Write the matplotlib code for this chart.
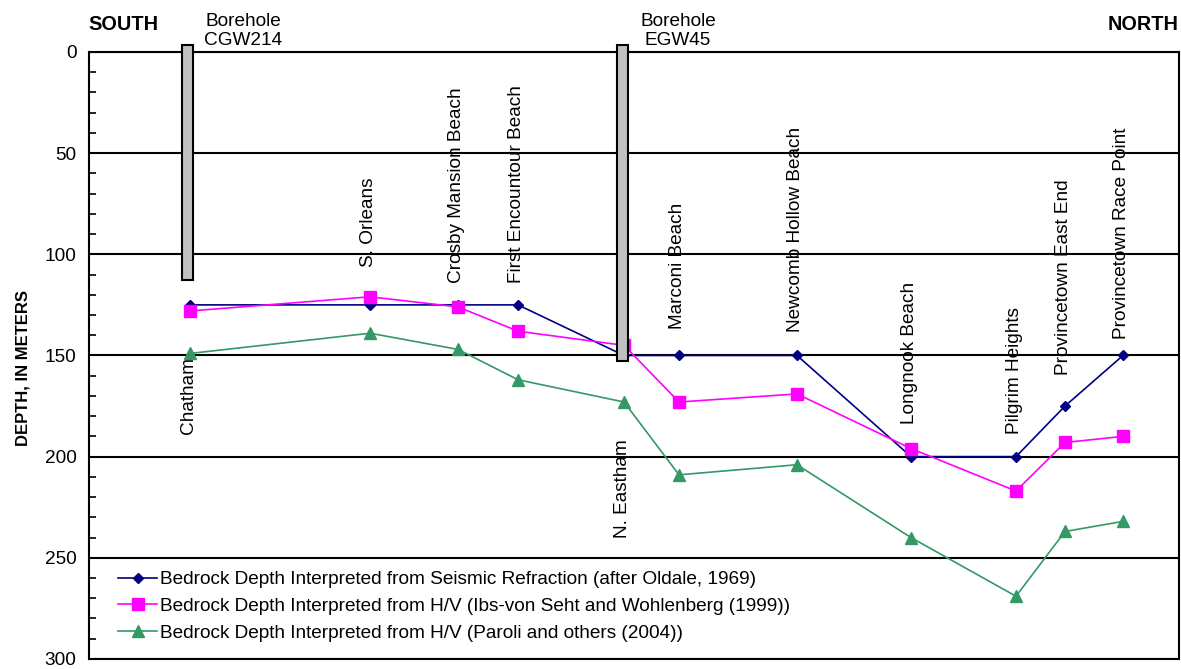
import matplotlib.pyplot as plt
from matplotlib.patches import Rectangle

plt.rcParams['font.family'] = ['Liberation Sans', 'DejaVu Sans']

# Stations along the cape, south to north (distance units along the section)
stations = ['Chatham', 'S. Orleans', 'Crosby Mansion Beach', 'First Encountour Beach',
            'N. Eastham', 'Marconi Beach', 'Newcomb Hollow Beach', 'Longnook Beach',
            'Pilgrim Heights', 'Provincetown East End', 'Provincetown Race Point']
distance = [10.1, 28.1, 36.9, 42.9, 53.5, 59.0, 70.8, 82.2, 92.7, 97.6, 103.4]

# Bedrock depth (m)
seismic = [125, 125, 125, 125, 150, 150, 150, 200, 200, 175, 150]
hv_ibs = [128, 121, 126, 138, 145, 173, 169, 196, 217, 193, 190]
hv_paroli = [149, 139, 147, 162, 173, 209, 204, 240, 269, 237, 232]

# Boreholes: name, location, bottom depth (m)
borehole_names = ['CGW214', 'EGW45']
borehole_x = [9.8, 53.3]
borehole_bottom = [112.5, 152.5]

# where each station name sits: (anchor depth, placed above or below the anchor)
label_depth = [151, 106.5, 114, 114, 191.5, 137, 138.5, 184, 189, 159.5, 142]
label_above = [False, True, True, True, False, True, True, True, True, True, True]

FS = 13.7

fig = plt.figure(figsize=(11.81, 6.69), dpi=100)
ax = fig.add_axes([0.0754, 0.0150, 0.9229, 0.9073])

ax.plot(distance, seismic, color='#000080', marker='D', markersize=5.5, lw=1.2,
        label='Bedrock Depth Interpreted from Seismic Refraction (after Oldale, 1969)', zorder=3)
ax.plot(distance, hv_ibs, color='#FF00FF', marker='s', markersize=8, lw=1.2,
        label='Bedrock Depth Interpreted from H/V (Ibs-von Seht and Wohlenberg (1999))', zorder=4)
ax.plot(distance, hv_paroli, color='#339966', marker='^', markersize=8, lw=1.2,
        label='Bedrock Depth Interpreted from H/V (Paroli and others (2004))', zorder=5)

# borehole columns
for name, bx, bottom in zip(borehole_names, borehole_x, borehole_bottom):
    ax.add_patch(Rectangle((bx - 0.55, -3.5), 1.1, bottom + 3.5, facecolor='#C0C0C0',
                           edgecolor='black', lw=1.5, zorder=6, clip_on=False))
    ax.text(bx + 5.6, -1.5, 'Borehole\n' + name, ha='center', va='bottom', fontsize=FS,
            linespacing=1.15, clip_on=False)

for name, x, d, above in zip(stations, distance, label_depth, label_above):
    ax.text(x - 0.15, d, name, rotation=90, ha='center', va='bottom' if above else 'top',
            fontsize=FS, zorder=7)

ax.set_xlim(0, 109)
ax.set_ylim(300, 0)
ax.set_yticks(range(0, 301, 50))
ax.set_yticks(range(0, 301, 10), minor=True)
ax.set_xticks([])
ax.tick_params(axis='y', which='major', length=0, labelsize=FS, pad=9)
ax.tick_params(axis='y', which='minor', direction='in', length=5, width=1.2)
ax.grid(axis='y', which='major', color='black', lw=1.5)
for sp in ax.spines.values():
    sp.set_linewidth(1.5)

fig.text(0.0195, 0.45, 'DEPTH, IN METERS', rotation=90, ha='center', va='center',
         fontsize=12, fontweight='bold')
fig.text(0.075, 0.963, 'SOUTH', ha='left', va='center', fontsize=14.3, fontweight='bold')
fig.text(0.998, 0.963, 'NORTH', ha='right', va='center', fontsize=14.3, fontweight='bold')

ax.legend(loc='lower left', bbox_to_anchor=(0.011, 0.0), frameon=False, fontsize=FS,
          handlelength=2.05, handletextpad=0.15, labelspacing=0.5, borderpad=0.6,
          borderaxespad=0.3)

fig.savefig('out.png', dpi=100)
